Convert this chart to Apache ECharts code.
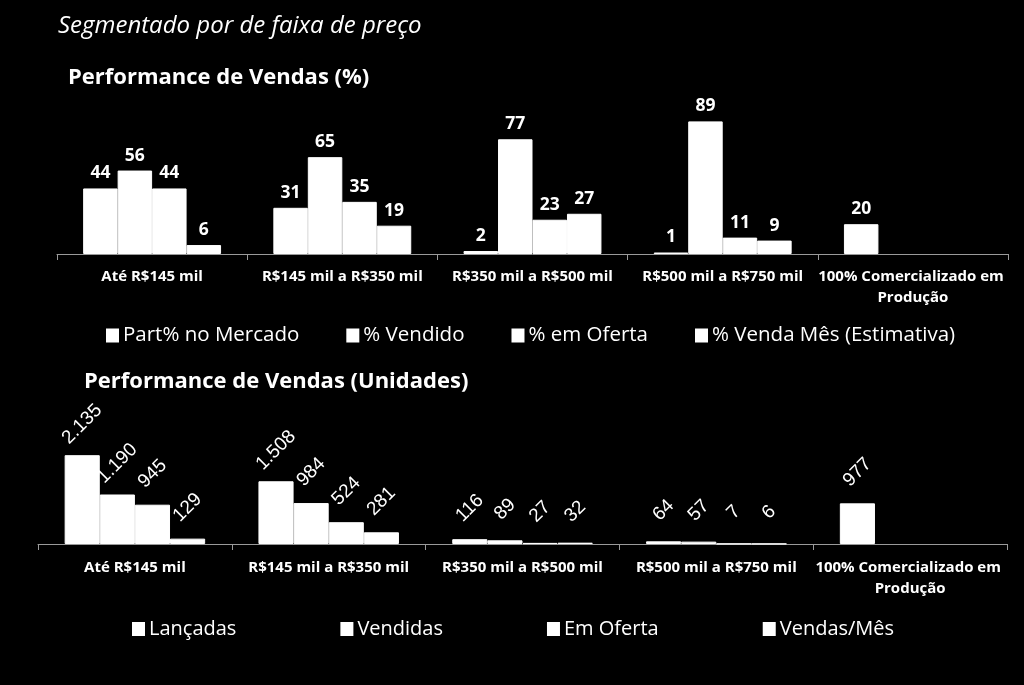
<!DOCTYPE html>
<html>
<head>
<meta charset="utf-8">
<script src="https://cdn.jsdelivr.net/npm/echarts@6/dist/echarts.min.js"></script>
<style>
html,body{margin:0;padding:0;background:#000;}
#c{width:1024px;height:685px;}
</style>
</head>
<body>
<div id="c"></div>
<script>
const categories = ['Até R$145 mil', 'R$145 mil a R$350 mil', 'R$350 mil a R$500 mil', 'R$500 mil a R$750 mil', '100% Comercializado em Produção'];

const pctNames = ['Part% no Mercado', '% Vendido', '% em Oferta', '% Venda Mês (Estimativa)'];
const pctPart = [44, 31, 2, 1, 20];
const pctVendido = [56, 65, 77, 89, null];
const pctOferta = [44, 35, 23, 11, null];
const pctVendaMes = [6, 19, 27, 9, null];

const unNames = ['Lançadas', 'Vendidas', 'Em Oferta', 'Vendas/Mês'];
const unLancadas = [2135, 1508, 116, 64, 977];
const unVendidas = [1190, 984, 89, 57, null];
const unOferta = [945, 524, 27, 7, null];
const unVendasMes = [129, 281, 32, 6, null];

const fmtThousands = v => String(v).replace(/\B(?=(\d{3})+(?!\d))/g, '.');

const chart = echarts.init(document.getElementById('c'), null, {renderer: 'canvas'});

const axisLineColor = '#9a9a9a';
function xAxisCfg(gridIndex, margin) {
  return {
    type: 'category', gridIndex: gridIndex, data: categories,
    axisLine: {lineStyle: {color: axisLineColor, width: 1}},
    axisTick: {show: true, length: 6, lineStyle: {color: axisLineColor}},
    axisLabel: {
      interval: 0, color: '#ffffff', fontFamily: 'Open Sans', fontWeight: 'bold',
      fontSize: 15, lineHeight: 21, margin: margin, width: 190, overflow: 'break'
    }
  };
}

function pctSeries(name, data) {
  return {
    name: name, type: 'bar', xAxisIndex: 0, yAxisIndex: 0, data: data,
    barGap: '0%', barCategoryGap: '27.5%',
    itemStyle: {color: '#ffffff', borderColor: '#ffffff', borderWidth: 1},
    label: {show: true, position: 'top', distance: 6, color: '#ffffff',
      fontFamily: 'Open Sans', fontWeight: 'bold', fontSize: 17.5},
    emphasis: {disabled: true}, animation: false
  };
}
function unSeries(name, data) {
  return {
    name: name, type: 'bar', xAxisIndex: 1, yAxisIndex: 1, data: data,
    barGap: '0%', barCategoryGap: '27.5%',
    itemStyle: {color: '#ffffff', borderColor: '#ffffff', borderWidth: 1},
    label: {show: true, position: 'top', distance: 31, rotate: 45,
      align: 'center', verticalAlign: 'middle', color: '#ffffff',
      fontFamily: 'Liberation Sans', fontSize: 19,
      formatter: p => fmtThousands(p.value)},
    emphasis: {disabled: true}, animation: false
  };
}

chart.setOption({
  backgroundColor: '#000000',
  animation: false,
  title: [
    {text: 'Segmentado por de faixa de preço', left: 58, top: 14, padding: 0,
      textStyle: {color: '#ffffff', fontFamily: 'Open Sans', fontStyle: 'italic', fontWeight: 'normal', fontSize: 24}},
    {text: 'Performance de Vendas (%)', left: 68, top: 67, padding: 0,
      textStyle: {color: '#ffffff', fontFamily: 'Open Sans', fontWeight: 'bold', fontSize: 22}},
    {text: 'Performance de Vendas (Unidades)', left: 84, top: 371, padding: 0,
      textStyle: {color: '#ffffff', fontFamily: 'Open Sans', fontWeight: 'bold', fontSize: 22}}
  ],
  legend: [
    {data: pctNames, left: 106, top: 325, padding: 0, itemWidth: 11, itemHeight: 12, itemGap: 47, icon: 'rect',
      selectedMode: false,
      textStyle: {color: '#ffffff', fontFamily: 'Open Sans', fontSize: 20.5}},
    {data: unNames, left: 132, top: 619, padding: 0, itemWidth: 11, itemHeight: 12, itemGap: 104, icon: 'rect',
      selectedMode: false,
      textStyle: {color: '#ffffff', fontFamily: 'Open Sans', fontSize: 20}}
  ],
  grid: [
    {left: 57, right: 16, top: 105, bottom: 431, containLabel: false},
    {left: 38, right: 17, top: 440, bottom: 141, containLabel: false}
  ],
  xAxis: [xAxisCfg(0, 12), xAxisCfg(1, 13)],
  yAxis: [
    {type: 'value', gridIndex: 0, min: 0, max: 100, show: false, splitLine: {show: false}},
    {type: 'value', gridIndex: 1, min: 0, max: 2500, show: false, splitLine: {show: false}}
  ],
  series: [
    pctSeries(pctNames[0], pctPart),
    pctSeries(pctNames[1], pctVendido),
    pctSeries(pctNames[2], pctOferta),
    pctSeries(pctNames[3], pctVendaMes),
    unSeries(unNames[0], unLancadas),
    unSeries(unNames[1], unVendidas),
    unSeries(unNames[2], unOferta),
    unSeries(unNames[3], unVendasMes)
  ]
});
</script>
</body>
</html>
